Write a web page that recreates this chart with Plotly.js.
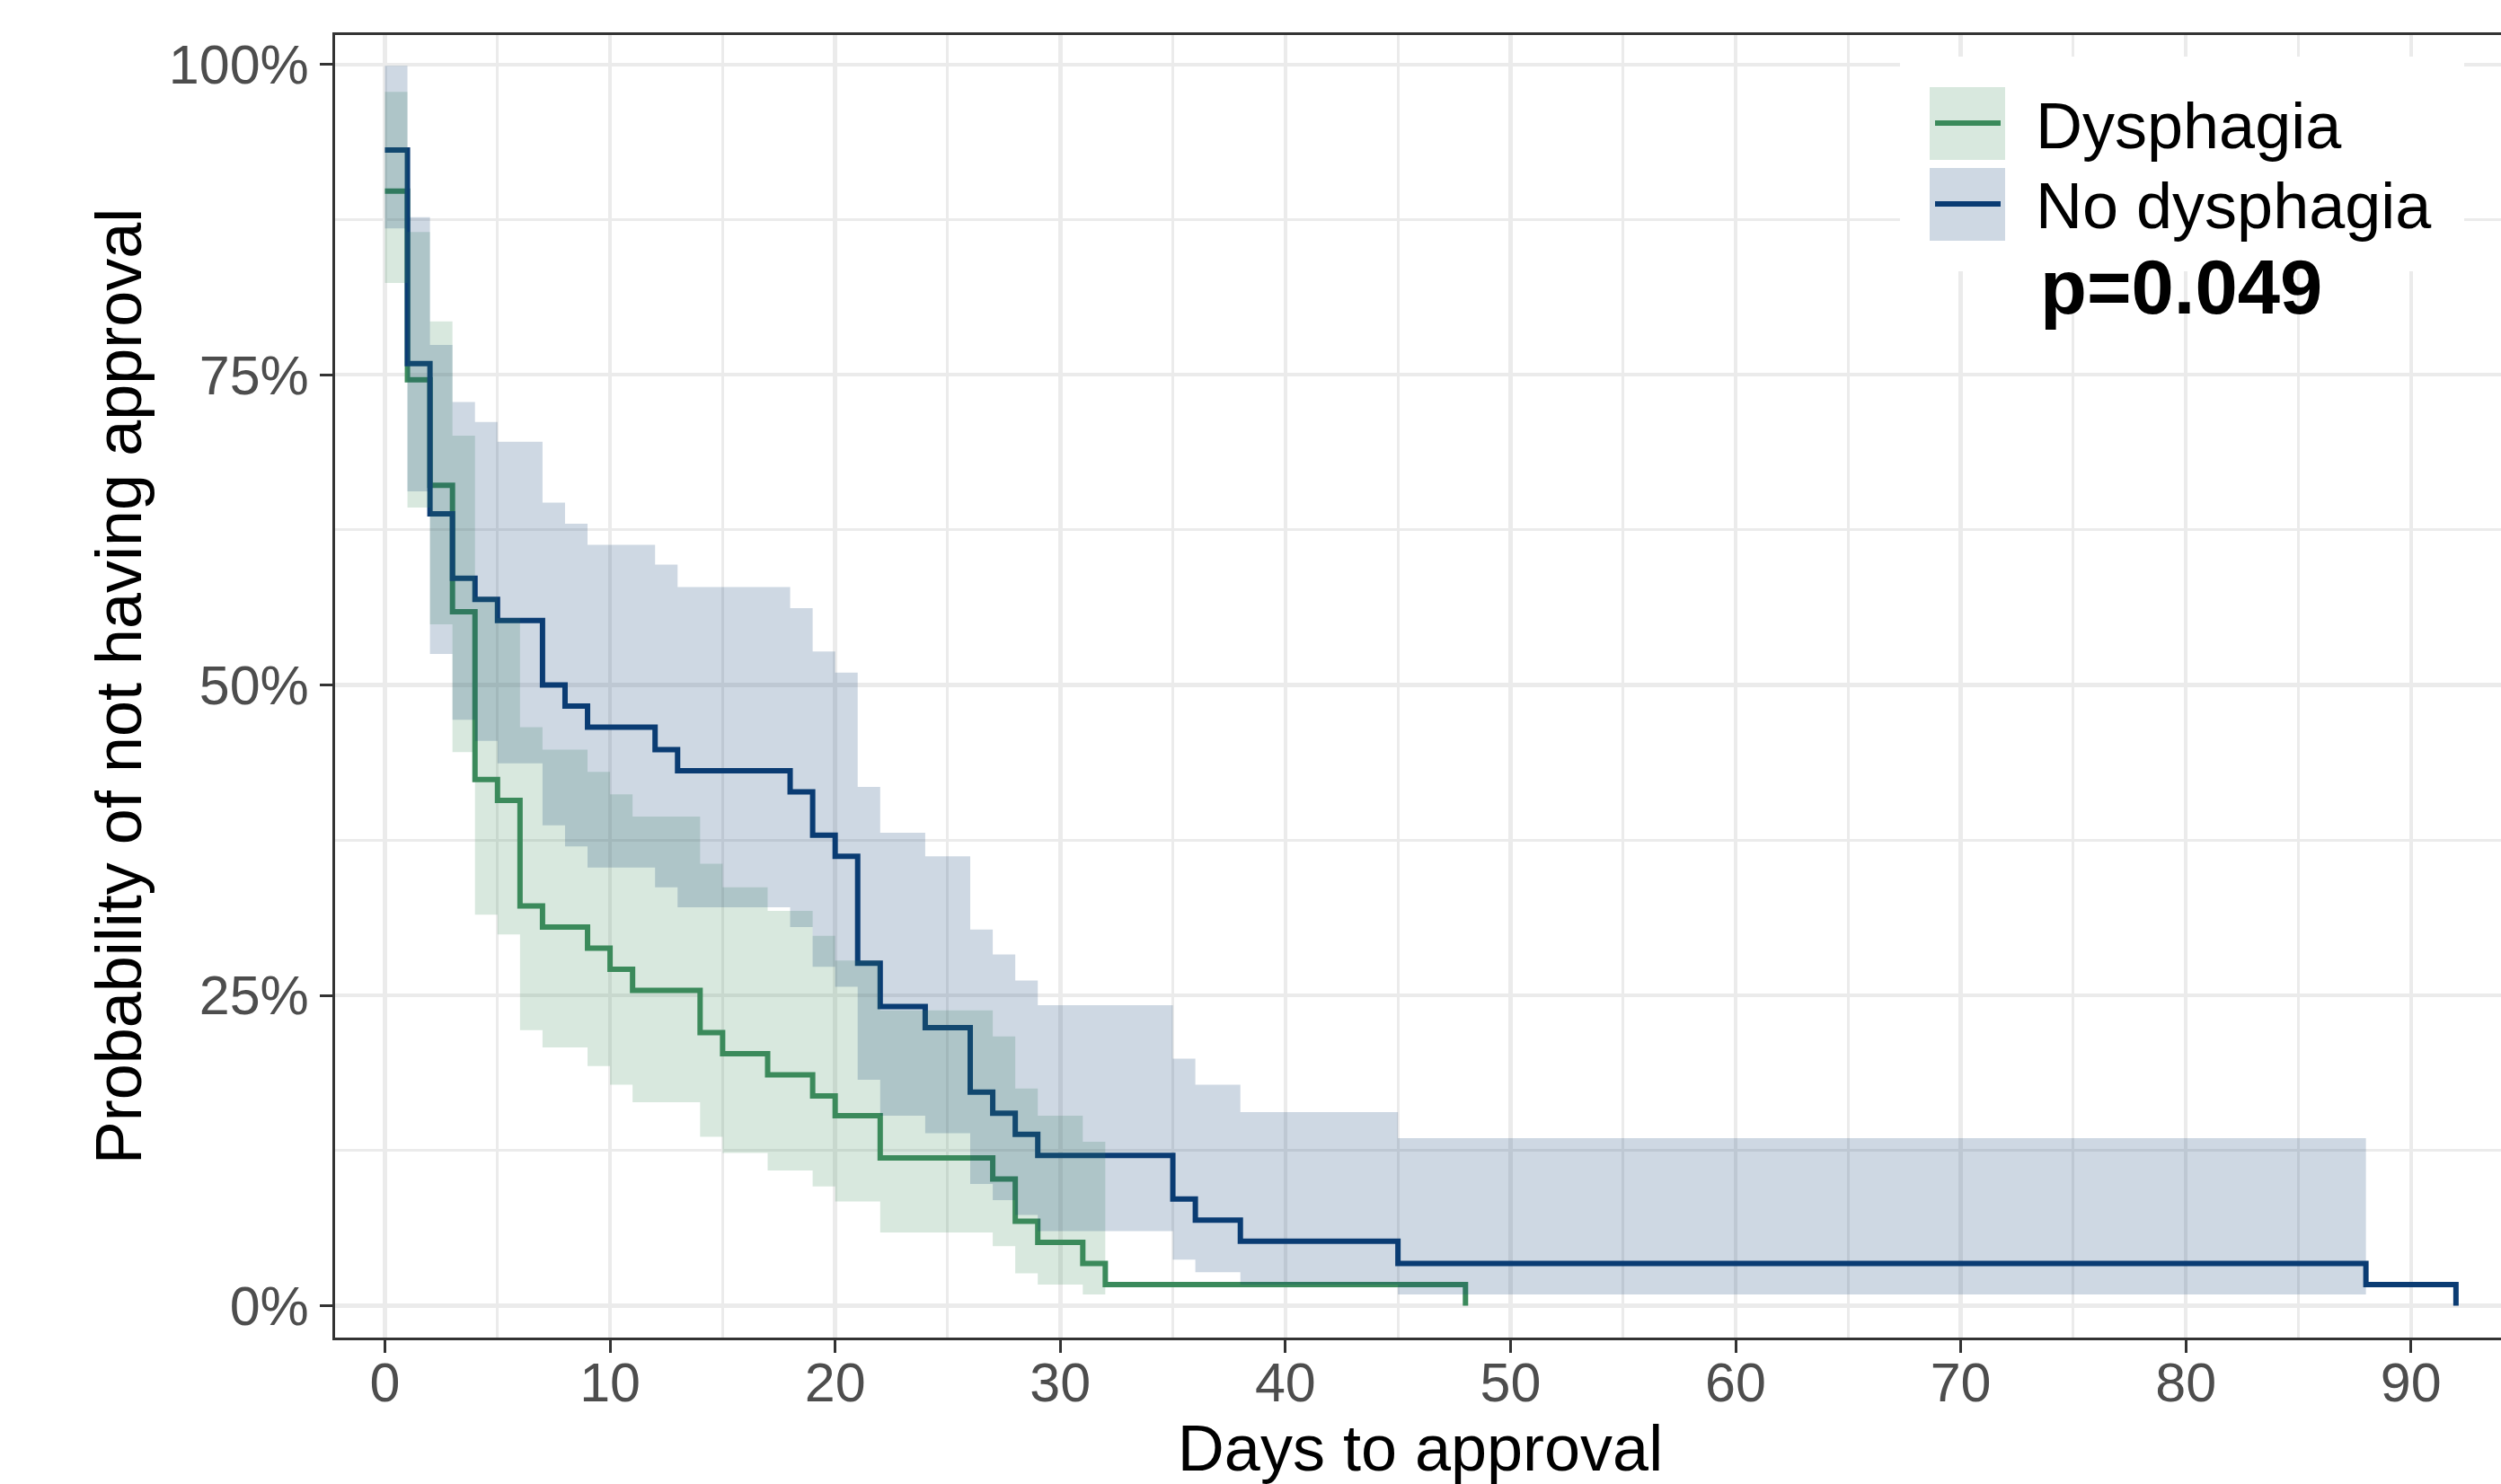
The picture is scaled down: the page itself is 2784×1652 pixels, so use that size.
<!DOCTYPE html>
<html><head><meta charset="utf-8">
<script src="https://cdn.plot.ly/plotly-3.0.1.min.js"></script>
<style>html,body{margin:0;padding:0;overflow:hidden;background:#fff;} #chart{width:2800px;height:1652px;}</style>
</head><body><div id="chart"></div>
<script>
// ---- Data ----
const seriesNames = ["Dysphagia", "No dysphagia"];
const pValueText = "p=0.049";

// Dysphagia: Kaplan-Meier step curve (days, % not yet approved)
const greenTimes = [0,1,2,3,4,5,6,7,9,10,11,14,15,17,19,20,22,27,28,29,31,32,48];
const greenSurv  = [89.8,74.6,66.1,55.9,42.4,40.7,32.2,30.5,28.8,27.1,25.4,22.0,20.3,18.6,16.9,15.3,11.9,10.2,6.8,5.1,3.4,1.7,0];
// Dysphagia: confidence band
const greenBandTimes = [0,1,2,3,4,5,6,7,9,10,11,14,15,17,19,20,22,27,28,29,31,32];
const greenUpper = [97.8,86.5,79.3,70.1,57.1,55.4,46.6,44.8,43.0,41.2,39.4,35.6,33.7,31.8,29.8,27.8,23.8,21.7,17.5,15.3,13.2,13.2];
const greenLower = [82.4,64.3,54.9,44.6,31.5,29.9,22.2,20.8,19.3,17.8,16.4,13.6,12.3,10.9,9.6,8.4,5.9,4.8,2.6,1.7,0.9,0.9];

// No dysphagia: Kaplan-Meier step curve
const blueTimes = [0,1,2,3,4,5,7,8,9,12,13,18,19,20,21,22,24,26,27,28,29,35,36,38,45,88,92];
const blueSurv  = [93.1,75.9,63.8,58.6,56.9,55.2,50.0,48.3,46.6,44.8,43.1,41.4,37.9,36.2,27.6,24.1,22.4,17.2,15.5,13.8,12.1,8.6,6.9,5.2,3.4,1.7,0];
// No dysphagia: confidence band
const blueBandTimes = [0,1,2,3,4,5,7,8,9,12,13,18,19,20,21,22,24,26,27,28,29,35,36,38,45,88];
const blueUpper = [99.9,87.7,77.4,72.8,71.2,69.6,64.7,63.0,61.3,59.7,57.9,56.2,52.7,51.0,41.8,38.1,36.2,30.3,28.3,26.2,24.2,19.9,17.8,15.6,13.5,13.5];
const blueLower = [86.8,65.6,52.5,47.2,45.5,43.7,38.7,37.0,35.3,33.7,32.1,30.5,27.3,25.7,18.2,15.3,13.9,9.8,8.5,7.3,6.0,3.7,2.7,1.7,0.9,0.9];

// ---- Styles ----
const GREEN = "#3b8a5c", BLUE = "#0b3c73";
const GREEN_FILL = "rgba(59,138,92,0.2)", BLUE_FILL = "rgba(11,60,115,0.2)";
const FONT = "Liberation Sans, Arial, Helvetica, sans-serif";

// plot-area pixel frame
const W = 2800, H = 1652, L = 373, T = 39, B = 1489, R = 2789;
const px = X => (X - L) / (R - L);
const py = Y => (B - Y) / (B - T);

function stepLine(x, y, color, name) {
  return {x: x, y: y, type: "scatter", mode: "lines", name: name, showlegend: false,
          hoverinfo: "skip", line: {shape: "hv", color: color, width: 6}};
}
function bandEdge(x, y, fill, name) {
  const t = {x: x, y: y, type: "scatter", mode: "lines", name: name, showlegend: false,
             hoverinfo: "skip", line: {shape: "hv", width: 0, color: "rgba(0,0,0,0)"}};
  if (fill) { t.fill = "tonexty"; t.fillcolor = fill; }
  return t;
}

const data = [
  stepLine(greenTimes, greenSurv, GREEN, seriesNames[0]),
  stepLine(blueTimes, blueSurv, BLUE, seriesNames[1]),
  bandEdge(greenBandTimes, greenLower, null, seriesNames[0] + " lower"),
  bandEdge(greenBandTimes, greenUpper, GREEN_FILL, seriesNames[0] + " upper"),
  bandEdge(blueBandTimes, blueLower, null, seriesNames[1] + " lower"),
  bandEdge(blueBandTimes, blueUpper, BLUE_FILL, seriesNames[1] + " upper")
];

const shapes = [
  // legend background
  {type: "rect", xref: "paper", yref: "paper", x0: px(2115), x1: px(2743), y0: py(302), y1: py(63),
   fillcolor: "#ffffff", line: {width: 0}, layer: "above"},
  // legend keys
  {type: "line", xref: "paper", yref: "paper", x0: px(2154), x1: px(2227), y0: py(137), y1: py(137),
   line: {color: GREEN, width: 6}, layer: "above"},
  {type: "rect", xref: "paper", yref: "paper", x0: px(2148), x1: px(2232), y0: py(178), y1: py(97),
   fillcolor: GREEN_FILL, line: {width: 0}, layer: "above"},
  {type: "line", xref: "paper", yref: "paper", x0: px(2154), x1: px(2227), y0: py(227), y1: py(227),
   line: {color: BLUE, width: 6}, layer: "above"},
  {type: "rect", xref: "paper", yref: "paper", x0: px(2148), x1: px(2232), y0: py(268), y1: py(187),
   fillcolor: BLUE_FILL, line: {width: 0}, layer: "above"}
];

const annotations = [
  {xref: "paper", yref: "paper", x: px(2264), y: py(140), xanchor: "left", yanchor: "middle",
   text: seriesNames[0], showarrow: false, font: {family: FONT, size: 72, color: "#000"}},
  {xref: "paper", yref: "paper", x: px(2264), y: py(229), xanchor: "left", yanchor: "middle",
   text: seriesNames[1], showarrow: false, font: {family: FONT, size: 72, color: "#000"}},
  {xref: "paper", yref: "paper", x: px(2428), y: py(320), xanchor: "center", yanchor: "middle",
   text: "<b>" + pValueText + "</b>", showarrow: false, font: {family: FONT, size: 85, color: "#000"}}
];

const layout = {
  width: W, height: H,
  margin: {l: L, r: W - R, t: T, b: H - B, pad: 0},
  paper_bgcolor: "#ffffff", plot_bgcolor: "#ffffff",
  font: {family: FONT},
  showlegend: false,
  xaxis: {
    range: [-2.215, 94.2], tickmode: "linear", tick0: 0, dtick: 10,
    showgrid: true, gridcolor: "#ebebeb", gridwidth: 4.5, zeroline: false,
    minor: {tick0: 0, dtick: 5, showgrid: true, gridcolor: "#ebebeb", gridwidth: 3, ticklen: 0},
    showline: true, mirror: true, linecolor: "#333333", linewidth: 3,
    ticks: "outside", ticklen: 14, tickwidth: 3, tickcolor: "#333333",
    ticklabelstandoff: -19,
    tickfont: {family: FONT, size: 61, color: "#4d4d4d"},
    title: {text: "Days to approval", font: {family: FONT, size: 72, color: "#000"}, standoff: 46}
  },
  yaxis: {
    range: [-2.57, 102.37], tickmode: "linear", tick0: 0, dtick: 25, ticksuffix: "%",
    showgrid: true, gridcolor: "#ebebeb", gridwidth: 4.5, zeroline: false,
    minor: {tick0: 0, dtick: 12.5, showgrid: true, gridcolor: "#ebebeb", gridwidth: 3, ticklen: 0},
    showline: true, mirror: true, linecolor: "#333333", linewidth: 3,
    ticks: "outside", ticklen: 14, tickwidth: 3, tickcolor: "#333333",
    tickfont: {family: FONT, size: 61, color: "#4d4d4d"},
    title: {text: "Probability of not having approval", font: {family: FONT, size: 72, color: "#000"}, standoff: 7}
  },
  shapes: shapes,
  annotations: annotations
};

Plotly.newPlot("chart", data, layout, {staticPlot: true, displayModeBar: false});
</script></body></html>
